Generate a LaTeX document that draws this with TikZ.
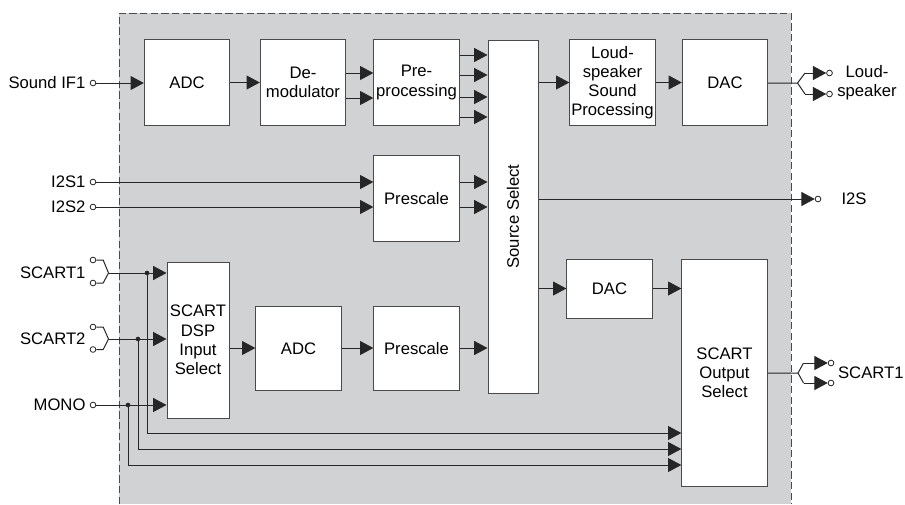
\documentclass[tikz,border=0pt]{standalone}
\usepackage{fontspec}
\setmainfont{Liberation Sans}
\usetikzlibrary{arrows.meta}
\definecolor{bgray}{HTML}{D1D2D4}
\definecolor{linec}{HTML}{262626}
\definecolor{boxc}{HTML}{4A4A4A}
\definecolor{dashc}{HTML}{4A4A4A}
\begin{document}
\begin{tikzpicture}[x=0.75pt,y=-0.75pt,
  font=\fontsize{12.5pt}{14.4pt}\selectfont,
  box/.style={draw=boxc, line width=0.75pt, fill=white, inner sep=0.5pt, align=center, minimum width=64pt, minimum height=64pt},
  arr/.style={draw=linec, line width=0.75pt, -{Triangle[length=10pt,width=10.5pt]}},
  ln/.style={draw=linec, line width=0.75pt},
  term/.style={circle, draw=linec, fill=white, line width=0.6pt, inner sep=0pt, minimum size=4.3pt},
  dot/.style={circle, fill=linec, inner sep=0pt, minimum size=3.5pt},
  lab/.style={inner sep=1pt, align=center},
]
\useasboundingbox (0,0) rectangle (905,504);
\fill[bgray] (119,13) rectangle (791,504);
\draw[dashc, line width=0.75pt, dash pattern=on 5.5pt off 2.5pt] (119,504) -- (119,13) -- (791,13) -- (791,504);

% level coordinates
\coordinate (y55) at (0,55);
\coordinate (y73) at (0,73);
\coordinate (y75) at (0,75);
\coordinate (y97) at (0,97);
\coordinate (y98) at (0,98);
\coordinate (y117) at (0,117);
\coordinate (y199) at (0,199);
\coordinate (yb) at (0,348);

% blocks
\node[box] (adcA) at (187,82.5) {ADC};
\node[box] (demod) at (303,82.5) {De-\\modulator};
\node[box] (pre) at (416.5,82.5) {Pre-\\processing};
\node[box, minimum width=37.5pt, minimum height=264.75pt] (src) at (513,216.5) {};
\node[rotate=90] (srct) at (src.center) {Source Select};
\node[box] (lsp) at (612.5,82.5) {Loud-\\speaker\\Sound\\Processing};
\node[box] (dacA) at (725,82.5) {DAC};
\node[box] (presA) at (416.5,198.5) {Prescale};
\node[box, minimum height=44.25pt] (dacB) at (609.5,288.5) {DAC};
\node[box, minimum height=170.25pt] (sout) at (724.5,372.5) {SCART\\Output\\Select};
\node[box, minimum width=46.5pt, minimum height=117pt] (sin) at (198,340) {SCART\\DSP\\Input\\Select};
\node[box, minimum height=63pt] (adcB) at (298.5,348.5) {ADC};
\node[box, minimum height=63pt] (presB) at (416.5,348.5) {Prescale};

% input terminals
\node[term] (sif) at (93,83) {};
\node[lab, anchor=east] (sifl) at ([xshift=-2pt]sif.west) {Sound IF1};
\node[term] (i2s1) at (93,182) {};
\node[lab, anchor=east] (i2s1l) at ([xshift=-2pt]i2s1.west) {I2S1};
\node[term] (i2s2) at (93,207) {};
\node[lab, anchor=east] (i2s2l) at ([xshift=-2pt]i2s2.west) {I2S2};
\node[term] (sc1a) at (93,260) {};
\node[term] (sc1b) at (93,283) {};
\coordinate (sc1v) at (108.5,273);
\node[lab, anchor=east] (sc1l) at ([xshift=-2pt]sc1a.west |- sc1v) {SCART1};
\node[term] (sc2a) at (93,327) {};
\node[term] (sc2b) at (93,349.5) {};
\coordinate (sc2v) at (108.5,339);
\node[lab, anchor=east] (sc2l) at ([xshift=-2pt]sc2a.west |- sc2v) {SCART2};
\node[term] (mono) at (93,405) {};
\node[lab, anchor=east] (monol) at ([xshift=-2pt]mono.west) {MONO};

% output terminals
\node[term] (i2so) at (818,199) {};
\node[lab, anchor=west] (i2sol) at ([xshift=14pt]i2so.east) {I2S};
\coordinate (lv) at (797.5,83);
\coordinate (lt) at (805,73);
\coordinate (lb) at (805,94);
\node[term] (lo1) at (829.5,73) {};
\node[term] (lo2) at (829.5,94) {};
\node[lab] (lol) at (867,83) {Loud-\\speaker};
\coordinate (ov) at (798,373);
\coordinate (ot) at (803.5,363);
\coordinate (ob) at (803.5,383);
\node[term] (so1) at (831,363) {};
\node[term] (so2) at (831,383) {};
\node[lab, anchor=west] (sol) at (836.5,373) {SCART1};

% top chain
\draw[arr] (sif.east) -- (adcA.west |- sif);
\draw[arr] (adcA.east) -- (demod.west);
\draw[arr] (demod.east |- y73) -- (pre.west |- y73);
\draw[arr] (demod.east |- y98) -- (pre.west |- y98);
\draw[arr] (pre.east |- y55) -- (src.west |- y55);
\draw[arr] (pre.east |- y75) -- (src.west |- y75);
\draw[arr] (pre.east |- y97) -- (src.west |- y97);
\draw[arr] (pre.east |- y117) -- (src.west |- y117);
\draw[arr] (src.east |- lsp) -- (lsp.west);
\draw[arr] (lsp.east) -- (dacA.west);
\draw[ln] (dacA.east |- lv) -- (lv) -- (lt);
\draw[ln] (lv) -- (lb);
\draw[arr] (lt) -- (lo1.west);
\draw[arr] (lb) -- (lo2.west);

% I2S
\draw[arr] (i2s1.east) -- (presA.west |- i2s1);
\draw[arr] (i2s2.east) -- (presA.west |- i2s2);
\draw[arr] (presA.east |- i2s1) -- (src.west |- i2s1);
\draw[arr] (presA.east |- i2s2) -- (src.west |- i2s2);
\draw[arr] (src.east |- y199) -- (i2so.west);

% DAC / SCART out
\draw[arr] (src.east |- dacB) -- (dacB.west);
\draw[arr] (dacB.east) -- (sout.west |- dacB);
\draw[ln] (sout.east |- ov) -- (ov) -- (ot);
\draw[ln] (ov) -- (ob);
\draw[arr] (ot) -- (so1.west);
\draw[arr] (ob) -- (so2.west);

% SCART inputs
\draw[ln] (sc1a.east) -- ([xshift=-4pt]sc1v |- sc1a) -- (sc1v) -- ([xshift=-4pt]sc1v |- sc1b) -- (sc1b.east);
\draw[ln] (sc2a.east) -- ([xshift=-4pt]sc2v |- sc2a) -- (sc2v) -- ([xshift=-4pt]sc2v |- sc2b) -- (sc2b.east);
\draw[arr] (sc1v) -- (sin.west |- sc1v);
\draw[arr] (sc2v) -- (sin.west |- sc2v);
\draw[arr] (mono.east) -- (sin.west |- mono);
\draw[arr] (sin.east |- yb) -- (adcB.west |- yb);
\draw[arr] (adcB.east |- yb) -- (presB.west |- yb);
\draw[arr] (presB.east |- yb) -- (src.west |- yb);

% bypass bus
\coordinate (j1) at (147,273);
\coordinate (j2) at (138,339);
\coordinate (j3) at (128,405);
\coordinate (b1) at (147,433);
\coordinate (b2) at (138,449);
\coordinate (b3) at (128,465);
\draw[arr] (j1) -- (b1) -- (sout.west |- b1);
\draw[arr] (j2) -- (b2) -- (sout.west |- b2);
\draw[arr] (j3) -- (b3) -- (sout.west |- b3);
\node[dot] (d1) at (j1) {};
\node[dot] (d2) at (j2) {};
\node[dot] (d3) at (j3) {};
\end{tikzpicture}
\end{document}
